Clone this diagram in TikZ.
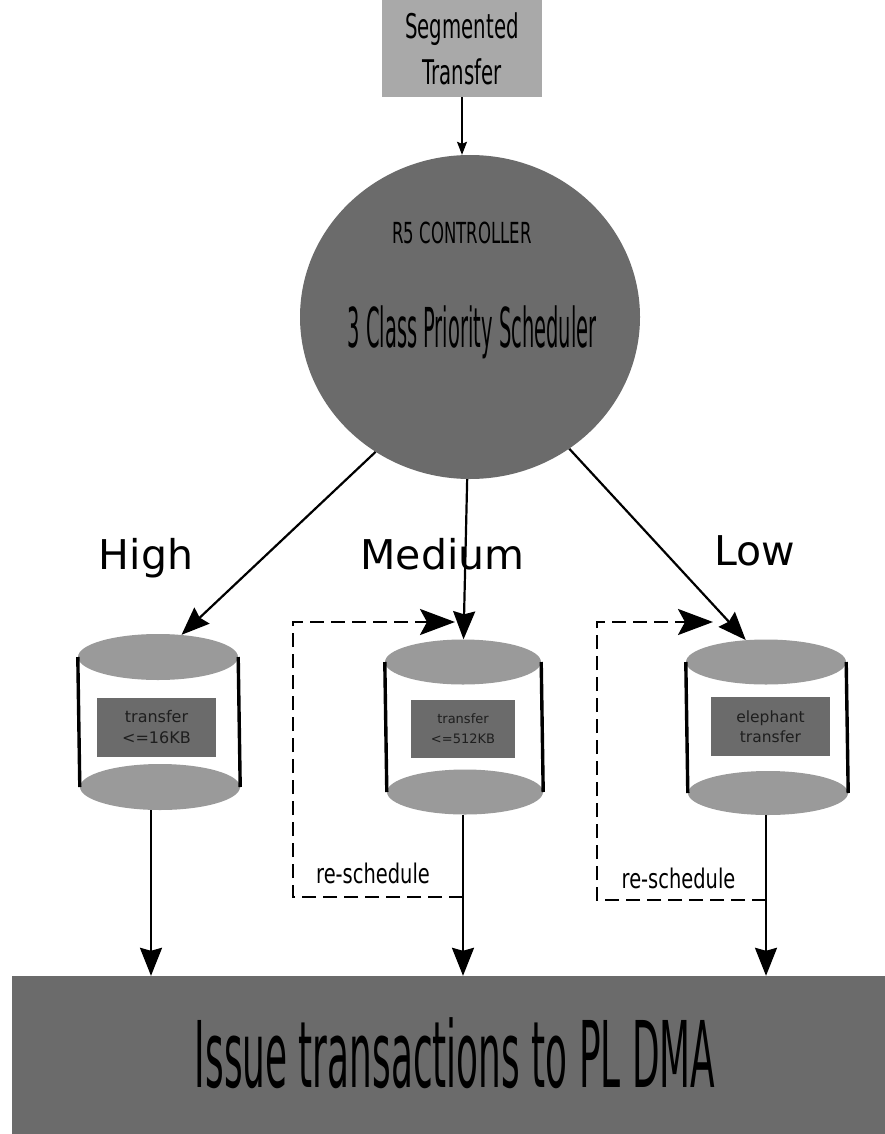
\documentclass[tikz,border=0pt]{standalone}
\usepackage{fontspec}
\setmainfont{DejaVu Sans}
\usepackage{graphicx}
\usetikzlibrary{shapes.geometric,arrows.meta,calc}

\definecolor{darkfill}{HTML}{6B6B6B}
\definecolor{boxfill}{HTML}{A9A9A9}
\definecolor{canfill}{HTML}{9A9A9A}
\definecolor{inktext}{HTML}{1E1E1E}

% horizontally condensed text
\newcommand{\squeeze}[2]{\scalebox{#1}[1]{#2}}

\begin{document}
\begin{tikzpicture}[x=1pt,y=-1pt,
  solidarrow/.style={line width=2.2pt,-{Stealth[length=28pt,width=22pt,inset=3pt]}},
  smallarrow/.style={line width=1.4pt,-{Stealth[length=13pt,width=10pt,inset=2pt]}},
  dasharrow/.style={line width=2.8pt,dash pattern=on 14pt off 7pt,
    -{Stealth[length=35pt,width=26pt,inset=7pt]}},
  sideline/.style={line width=3.4pt},
  cantop/.style={ellipse,fill=canfill,inner sep=0pt},
  innerbox/.style={fill=darkfill,inner sep=0pt,align=center,text=inktext},
  level/.style={anchor=base,font=\fontsize{41}{41}\selectfont},
  note/.style={anchor=base,font=\fontsize{27}{27}\selectfont}
]
\useasboundingbox (0,0) rectangle (885,1134);

% source of transfers
\node[fill=boxfill,minimum width=160pt,minimum height=97pt,inner sep=0pt,
      align=center,font=\fontsize{34}{46}\selectfont] (seg) at (462,48.5)
  {\squeeze{0.58}{Segmented}\\\squeeze{0.58}{Transfer}};

% scheduler
\node[ellipse,fill=darkfill,minimum width=340pt,minimum height=324pt,inner sep=0pt]
  (sched) at (470,317) {};
\node[anchor=base,font=\fontsize{29}{29}\selectfont] (r5) at (462,243)
  {\squeeze{0.57}{R5 CONTROLLER}};
\node[anchor=base,font=\fontsize{55}{55}\selectfont] (cls) at (472,347)
  {\squeeze{0.354}{3 Class Priority Scheduler}};

\draw[smallarrow] (seg.south) -- (seg.south |- sched.north);

% priority labels
\node[level] (high) at (146,569) {High};
\node[level] (medium) at (442.5,569) {Medium};
\node[level] (low) at (755,565) {Low};

% high priority queue
\node[cantop,minimum width=160pt,minimum height=46pt] (htop) at (158,657) {};
\node[cantop,minimum width=160pt,minimum height=46pt] (hbot) at (160,787) {};
\draw[sideline] (htop.west) -- (hbot.west);
\draw[sideline] (htop.east) -- (hbot.east);
\node[innerbox,minimum width=119pt,minimum height=59pt,font=\fontsize{16}{21}\selectfont]
  (hbox) at (156.5,727.5) {transfer\\<=16KB};

% medium priority queue
\node[cantop,minimum width=156pt,minimum height=45pt] (mtop) at (463,662) {};
\node[cantop,minimum width=156pt,minimum height=45pt] (mbot) at (465,792) {};
\draw[sideline] (mtop.west) -- (mbot.west);
\draw[sideline] (mtop.east) -- (mbot.east);
\node[innerbox,minimum width=104pt,minimum height=58pt,font=\fontsize{13}{20}\selectfont]
  (mbox) at (463,729) {transfer\\<=512KB};

% low priority queue
\node[cantop,minimum width=160pt,minimum height=45pt] (ltop) at (766,662) {};
\node[cantop,minimum width=160pt,minimum height=44pt] (lbot) at (768,793) {};
\draw[sideline] (ltop.west) -- (lbot.west);
\draw[sideline] (ltop.east) -- (lbot.east);
\node[innerbox,minimum width=119pt,minimum height=59pt,font=\fontsize{15.5}{20}\selectfont]
  (lbox) at (770.5,726.5) {elephant\\transfer};

% dispatch from the scheduler
\draw[solidarrow] (sched.235) -- (htop);
\draw[solidarrow] (sched.269) -- (mtop);
\draw[solidarrow] (sched.307) -- (ltop);

% DMA issue stage
\node[fill=darkfill,minimum width=873pt,minimum height=158pt,inner sep=0pt]
  (dma) at (448.5,1055) {};
\node[anchor=base,font=\fontsize{92}{92}\selectfont] (dmatext) at (455,1087)
  {\squeeze{0.39}{Issue transactions to PL DMA}};

\coordinate (hx) at (151,0);
\coordinate (mx) at (463,0);
\coordinate (lx) at (766,0);
\draw[solidarrow] (hbot.south -| hx) -- (hx |- dma.north);
\draw[solidarrow] (mbot.south -| mx) -- (mx |- dma.north);
\draw[solidarrow] (lbot.south -| lx) -- (lx |- dma.north);

% re-schedule loops
\coordinate (mjoin) at (463,897);
\coordinate (mcorner) at (293,622);
\coordinate (mtip) at (455,622);
\draw[dasharrow] (mjoin) -| (mcorner) -- (mtip);
\node[note] (mres) at (373,883) {\squeeze{0.72}{re-schedule}};

\coordinate (ljoin) at (766,900);
\coordinate (lcorner) at (597,622);
\coordinate (ltip) at (713,622);
\draw[dasharrow] (ljoin) -| (lcorner) -- (ltip);
\node[note] (lres) at (678.5,888) {\squeeze{0.72}{re-schedule}};
\end{tikzpicture}
\end{document}
